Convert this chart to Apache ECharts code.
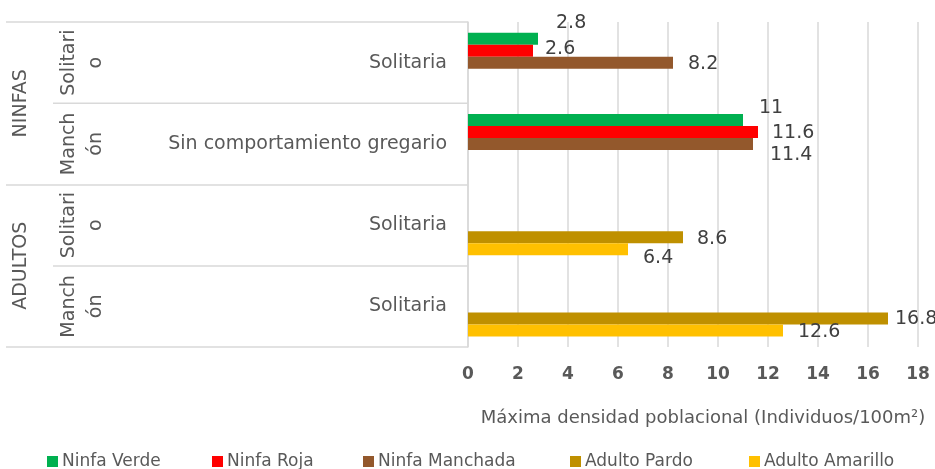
<!DOCTYPE html>
<html>
<head>
<meta charset="utf-8">
<script src="https://cdn.jsdelivr.net/npm/echarts@6/dist/echarts.min.js"></script>
<style>
html,body{margin:0;padding:0;background:#fff;}
#c{width:935px;height:469px;}
</style>
</head>
<body>
<div id="c"></div>
<script>
// ---- data ----
var groups = ['NINFAS', 'ADULTOS'];
var subGroups = ['Solitario', 'Manchón', 'Solitario', 'Manchón'];
var categories = ['Solitaria', 'Sin comportamiento gregario', 'Solitaria ', 'Solitaria  '];
var seriesNames = ['Ninfa Verde', 'Ninfa Roja', 'Ninfa Manchada', 'Adulto Pardo', 'Adulto Amarillo'];
var ninfaVerde = [2.8, 11, null, null];
var ninfaRoja = [2.6, 11.6, null, null];
var ninfaManchada = [8.2, 11.4, null, null];
var adultoPardo = [null, null, 8.6, 16.8];
var adultoAmarillo = [null, null, 6.4, 12.6];
var xTicks = [0, 2, 4, 6, 8, 10, 12, 14, 16, 18];
var axisTitle = 'Máxima densidad poblacional (Individuos/100m²)';

// ---- styling (not data) ----
var colors = ['#00B050', '#FF0000', '#93582C', '#BF9000', '#FFC000'];
var labelOffsets = [
  [[18, -16], [16, -12], null, null],
  [[12, -2], [14, 1], null, null],
  [[15, 1], [17, 11], null, null],
  [null, null, [14, 2], [7, 1]],
  [null, null, [15, 9], [15, 2]]
];
var legendLefts = [42, 207, 358, 565, 744];
var FONT = '"DejaVu Sans", "Noto Sans", sans-serif';
var values = [ninfaVerde, ninfaRoja, ninfaManchada, adultoPardo, adultoAmarillo];

function wrapSub(s) {
  return s === 'Solitario' ? 'Solitari\no' : 'Manch\nón';
}

var series = values.map(function (arr, si) {
  return {
    name: seriesNames[si],
    type: 'bar',
    xAxisIndex: 0,
    yAxisIndex: 0,
    barWidth: 12,
    barGap: '0%',
    itemStyle: { color: colors[si] },
    data: arr.map(function (v, i) {
      if (v == null) return '-';
      return {
        value: v,
        label: { show: true, position: 'right', distance: 0, offset: labelOffsets[si][i] }
      };
    }),
    label: { show: true, color: '#404040', fontSize: 19, fontFamily: FONT }
  };
});

var legends = seriesNames.map(function (n, i) {
  return {
    data: [n],
    top: 448,
    left: legendLefts[i],
    itemWidth: 11,
    itemHeight: 11,
    itemGap: 0,
    icon: 'rect',
    textStyle: { color: '#595959', fontSize: 17, fontFamily: FONT, padding: [0, 0, 0, -1] }
  };
});

var chart = echarts.init(document.getElementById('c'), null, { renderer: 'canvas' });
chart.setOption({
  animation: false,
  backgroundColor: '#fff',
  color: colors,
  textStyle: { fontFamily: FONT },
  grid: { left: 468, right: 17, top: 22, bottom: 122, containLabel: false },
  xAxis: {
    type: 'value',
    min: xTicks[0],
    max: xTicks[xTicks.length - 1],
    interval: xTicks[1] - xTicks[0],
    axisLine: { show: false },
    axisTick: { show: false },
    splitLine: { lineStyle: { color: '#D9D9D9', width: 1.5 } },
    axisLabel: { color: '#595959', fontWeight: 'bold', fontSize: 17, margin: 19, fontFamily: FONT },
    name: axisTitle,
    nameLocation: 'middle',
    nameGap: 62,
    nameTextStyle: { color: '#595959', fontSize: 18, fontFamily: FONT, padding: [0, 0, 0, 20] }
  },
  yAxis: [
    {
      type: 'category',
      inverse: true,
      data: categories,
      axisLine: { lineStyle: { color: '#D9D9D9', width: 1.5 } },
      axisTick: { show: true, length: 415, lineStyle: { color: '#D9D9D9', width: 1.5 } },
      axisLabel: {
        interval: 0, color: '#595959', fontSize: 19, margin: 21, fontFamily: FONT,
        padding: [4, 0, 0, 0],
        formatter: function (v) { return v.trim(); }
      }
    },
    {
      type: 'category',
      inverse: true,
      position: 'left',
      data: subGroups.map(function (s, i) { return i + ''; }),
      axisLine: { show: false },
      axisTick: { show: false },
      axisLabel: {
        interval: 0, rotate: 90, color: '#595959', fontSize: 19, margin: 385,
        align: 'center', verticalAlign: 'middle', lineHeight: 27, fontFamily: FONT,
        formatter: function (v) { return wrapSub(subGroups[+v]); }
      }
    },
    {
      type: 'category',
      inverse: true,
      position: 'left',
      data: groups,
      axisLine: { show: false },
      axisTick: { show: true, length: 462, lineStyle: { color: '#D9D9D9', width: 1.5 } },
      axisLabel: {
        interval: 0, rotate: 90, color: '#595959', fontSize: 19, margin: 447,
        align: 'center', verticalAlign: 'middle', fontFamily: FONT
      }
    }
  ],
  legend: legends,
  series: series
});
</script>
</body>
</html>
